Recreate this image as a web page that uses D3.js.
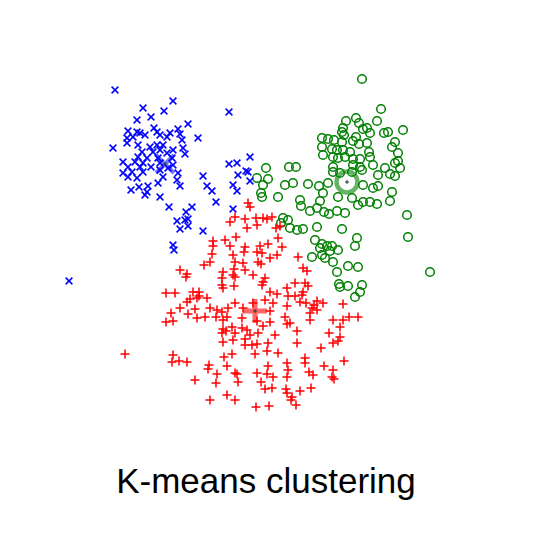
<!DOCTYPE html>
<html lang="en">
<head>
<meta charset="utf-8">
<script src="https://d3js.org/d3.v7.min.js"></script>
<style>
  body { margin: 0; background: #fff; }
</style>
</head>
<body>
<script>
// cluster points (x, y) in plot units
const blueX = [-135,-107,-77,-86,-99,-113,-62,-52,-96,-93,-122,-113,-110,-72,-80,-70,-123,-117,-105,-90,-83,-68,-123,-112,-100,-93,-87,-77,-67,-137,-108,-97,-90,-83,-65,-112,-103,-92,-78,-127,-115,-107,-90,-77,-122,-110,-99,-90,-82,-127,-118,-107,-72,-122,-113,-87,-73,-92,-70,-119,-111,-102,-103,-105,-90,0,-21,-13,-2,-4,-12,0,-47,-43,-38,-17,-13,-34,-58,-64,-17,-73,-65,-62,-62,-70,-47,-77,-76,-81,-21,-181];
const blueY = [170,152,159,149,143,140,136,122,132,128,129,128,127,131,127,126,122,123,125,125,123,120,117,115,113,115,115,110,112,112,108,108,110,107,106,103,102,102,102,98,98,97,97,95,93,93,93,90,92,87,88,88,87,83,82,83,80,77,74,70,73,74,68,65,63,103,96,97,88,89,85,79,84,74,69,75,69,58,53,48,51,39,40,41,34,31,29,15,10,53,148,-21];

const greenX = [16,7,18,13,39,46,35,43,58,69,78,11,12,28,50,51,70,60,67,74,79,87,95,33,38,31,40,47,53,67,92,65,72,77,82,88,70,107,105,62,80,72,75,83,83,90,108,112,131,127,106,109,96,93,92,94,113,117,120,134,138,153,106,103,72,78,84,92,109,117,145,142,82,87,93,100,119,148,83,88,95,103,110,120,148,145,103,110,123,135,150,83,102,112,128,140,145,72,73,113,123,128,142,73,88,102,113,120,127,140,157,158,98,108,87,180,89,90,98,112,110,105];
const greenY = [92,82,81,75,93,93,75,77,76,74,77,67,63,63,60,54,59,49,52,48,46,49,47,42,40,37,32,30,31,33,31,20,16,14,14,10,12,22,14,3,9,5,2,-2,93,87,55,181,151,139,142,137,139,132,128,125,131,132,127,127,128,130,123,119,122,121,120,118,116,117,118,113,111,110,110,108,108,107,103,102,103,101,101,103,99,97,95,93,95,92,92,88,88,90,85,86,84,113,105,75,72,74,68,67,63,62,58,58,56,59,45,23,-6,-7,-12,-12,-24,-27,-26,-25,-32,-37];

const redX = [-2,0,-15,-20,-5,6,13,17,22,7,-3,26,30,28,-37,-25,-14,-5,-20,-37,10,18,-38,32,-6,7,12,48,20,
  -17,27,8,11,-7,-15,-27,-16,-5,-17,-15,3,53,57,-28,15,13,12,-28,-27,-16,37,20,27,38,-15,15,23,37,-7,3,20,-8,7,20,35,-23,-28,-27,
  45,55,58,53,45,52,50,56,67,73,64,62,67,60,60,93,99,108,83,93,90,79,90,88,83,71,40,47,
  -40,-46,-70,-63,-64,-84,-75,-57,-51,-51,-60,-63,-53,-43,-70,-55,-40,-33,-22,-79,-62,-53,-45,-34,-84,-77,-27,-28,-24,
  -125,-77,-78,-71,-63,-55,-40,-41,-42,-33,-34,-26,-23,-27,-23,
  -18,-15,-8,-3,0,13,8,-5,-17,-5,2,7,18,25,17,5,28,37,47,-18,-15,-13,-12,7,18,17,23,11,37,38,37,55,55,59,63,74,83,82,84,15,22,36,37,50,61,42,41,46,-15,6,19,94];
const redY = [57,53,43,38,41,42,42,41,43,35,32,32,34,22,19,20,23,13,14,14,14,16,6,13,8,8,7,3,2,
  5,5,-2,-4,-3,-2,-12,-9,-10,-15,-17,-15,-8,-11,-18,-18,-22,-25,-25,-28,-26,-28,-32,-34,-36,-43,-40,-43,-46,-48,-43,-51,-58,-61,-62,-57,-57,-52,-60,
  -23,-23,-26,-32,-36,-35,-42,-43,-41,-43,-45,-48,-50,-53,-60,-44,-57,-57,-60,-60,-67,-73,-77,-81,-83,-88,-63,-83,
  -2,-5,-10,-14,-17,-33,-33,-32,-32,-36,-39,-42,-38,-38,-48,-49,-48,-50,-48,-53,-54,-58,-57,-57,-62,-61,-69,-73,-71,
  -94,-95,-102,-101,-102,-120,-140,-105,-109,-114,-123,-97,-106,-82,-135,
  -67,-73,-68,-70,-75,-66,-73,-79,-80,-85,-85,-84,-83,-75,-91,-94,-93,-64,-71,-94,-113,-114,-122,-113,-106,-114,-117,-122,-103,-110,-117,-98,-103,-112,-115,-106,-110,-117,-119,-129,-128,-129,-133,-131,-128,-137,-140,-145,-140,-147,-146,-101];

// cluster centres
const centerX = [-85, 97, 5];
const centerY = [96, 78, -51];
const title = "K-means clustering";

const width = 536, height = 545;
const svg = d3.select("body").append("svg")
  .attr("width", width)
  .attr("height", height);

const x = d3.scaleLinear().domain([-200, 200]).range([50, 450]);
const y = d3.scaleLinear().domain([-200, 200]).range([460, 60]);

function plusPath(r) {
  return "M" + (-r) + ",0H" + r + "M0," + (-r) + "V" + r;
}
function timesPath(r) {
  return "M" + (-r) + "," + (-r) + "L" + r + "," + r + "M" + (-r) + "," + r + "L" + r + "," + (-r);
}

const blue = d3.zip(blueX, blueY);
const green = d3.zip(greenX, greenY);
const red = d3.zip(redX, redY);

svg.append("g").selectAll("path")
  .data(green).enter().append("circle")
  .attr("cx", d => x(d[0]))
  .attr("cy", d => y(d[1]))
  .attr("r", 4.3)
  .attr("fill", "none")
  .attr("stroke", "#008000")
  .attr("stroke-width", 1.5);

svg.append("g").selectAll("path")
  .data(blue).enter().append("path")
  .attr("transform", d => "translate(" + x(d[0]) + "," + y(d[1]) + ")")
  .attr("d", timesPath(3.4))
  .attr("stroke", "#0000ff")
  .attr("stroke-width", 1.5)
  .attr("fill", "none");

svg.append("g").selectAll("path")
  .data(red).enter().append("path")
  .attr("transform", d => "translate(" + x(d[0]) + "," + y(d[1]) + ")")
  .attr("d", plusPath(4.5))
  .attr("stroke", "#ff0000")
  .attr("stroke-width", 1.5)
  .attr("fill", "none");

// centroids: big faded marker with a small dark mark
const cg = svg.append("g");
cg.append("path")
  .attr("transform", "translate(" + x(centerX[0]) + "," + y(centerY[0]) + ")")
  .attr("d", timesPath(9))
  .attr("stroke", "#0000ff").attr("stroke-opacity", 0.55)
  .attr("stroke-width", 4).attr("fill", "none");
cg.append("circle")
  .attr("cx", x(centerX[1])).attr("cy", y(centerY[1]))
  .attr("r", 10.5)
  .attr("fill", "none")
  .attr("stroke", "#008000").attr("stroke-opacity", 0.6)
  .attr("stroke-width", 4.5);
cg.append("path")
  .attr("transform", "translate(" + x(centerX[2]) + "," + y(centerY[2]) + ")")
  .attr("d", plusPath(12))
  .attr("stroke", "#ff0000").attr("stroke-opacity", 0.6)
  .attr("stroke-width", 5).attr("fill", "none");
cg.selectAll(".dot")
  .data(d3.zip(centerX, centerY)).enter().append("path")
  .attr("transform", d => "translate(" + x(d[0]) + "," + y(d[1]) + ")")
  .attr("d", plusPath(2))
  .attr("stroke", "#333").attr("stroke-width", 1)
  .attr("fill", "none");

svg.append("text")
  .attr("x", 266)
  .attr("y", 493)
  .attr("text-anchor", "middle")
  .attr("font-family", "Liberation Sans, Arial, sans-serif")
  .attr("font-size", 35)
  .attr("fill", "#000")
  .text(title);
</script>
</body>
</html>
